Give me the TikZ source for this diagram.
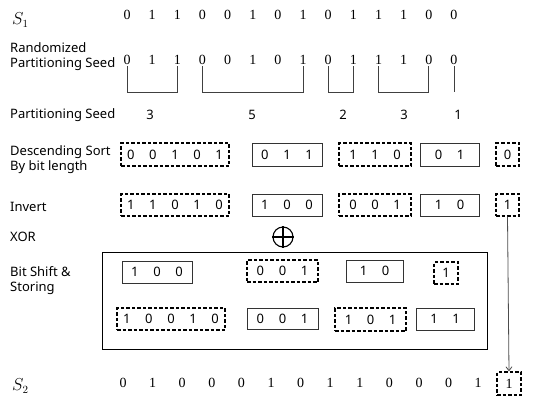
\documentclass[tikz,border=0pt]{standalone}
\usepackage{fontspec}
\setmainfont{Noto Sans}
\newfontfamily\serifdig{Liberation Serif}
\usetikzlibrary{arrows.meta}
\newcommand\bgp{\hspace{14.6pt}}
\begin{document}
\begin{tikzpicture}[x=1pt,y=-1pt,
  lab/.style={anchor=west, font=\fontsize{13}{15}\selectfont, align=left, inner sep=0pt},
  slab/.style={anchor=west, inner sep=0pt, font=\fontsize{16}{16}\selectfont},
  sdig/.style={font=\serifdig\fontsize{14}{14}\selectfont, inner sep=1.5pt},
  num/.style={font=\fontsize{13}{13}\selectfont, inner sep=1pt},
  bitbox/.style={draw, inner sep=0pt, minimum height=23pt, font=\fontsize{13}{13}\selectfont},
  solidbox/.style={bitbox, draw=black!80, line width=0.7pt},
  dashbox/.style={bitbox, line width=1.2pt, dash pattern=on 3.5pt off 2pt},
  br/.style={draw=black!75, line width=0.8pt}]
\useasboundingbox (0,0) rectangle (535,397);

% labels
\node[slab] (ls1) at (12,20) {$S_1$};
\node[lab] (lrand) at (10,57) {Randomized\\Partitioning Seed};
\node[lab] (lseed) at (10,115) {Partitioning Seed};
\node[lab] (ldesc) at (10,160) {Descending Sort\\By bit length};
\node[lab] (linv) at (10,207) {Invert};
\node[lab] (lxor) at (10,237) {XOR};
\node[lab] (lbit) at (10,281) {Bit Shift \&\\Storing};
\node[slab] (ls2) at (12,386) {$S_2$};

% S1 row
\foreach \d [count=\i from 0] in {0,1,1,0,0,1,0,1,0,1,1,1,0,0}
  \node[sdig] (a\i) at (127+25.15*\i,15) {\d};
% randomized seed row
\foreach \d [count=\i from 0] in {0,1,1,0,0,1,0,1,0,1,1,1,0,0}
  \node[sdig] (r\i) at (127+25.15*\i,60) {\d};

\coordinate (base) at (0,92);
\draw[br] (r0.south) -- (r0.south |- base) -- (r2.south |- base) -- (r2.south);
\draw[br] (r3.south) -- (r3.south |- base) -- (r7.south |- base) -- (r7.south);
\draw[br] (r8.south) -- (r8.south |- base) -- (r9.south |- base) -- (r9.south);
\draw[br] (r10.south) -- (r10.south |- base) -- (r12.south |- base) -- (r12.south);
\draw[br] (r13.south) -- (r13.south |- base);

% partitioning seed numbers
\node[num] (p1) at (150,115) {3};
\node[num] (p2) at (252,115) {5};
\node[num] (p3) at (343,115) {2};
\node[num] (p4) at (404,115) {3};
\node[num] (p5) at (458,115) {1};

% descending sort row
\node[dashbox, minimum width=108pt] (d1) at (175,154.5) {0\bgp0\bgp1\bgp0\bgp1};
\node[solidbox, minimum width=70pt] (d2) at (287,154.5) {0\bgp1\bgp1};
\node[dashbox, minimum width=72pt] (d3) at (375,154.5) {1\bgp1\bgp0};
\node[solidbox, minimum width=59pt] (d4) at (449.5,154.5) {0\bgp1};
\node[dashbox, minimum width=23pt] (d5) at (507.5,154.5) {0};

% invert row
\node[dashbox, minimum width=108pt, minimum height=22pt] (i1) at (175,205) {1\bgp1\bgp0\bgp1\bgp0};
\node[solidbox, minimum width=70pt, minimum height=22pt] (i2) at (287,205) {1\bgp0\bgp0};
\node[dashbox, minimum width=72pt, minimum height=22pt] (i3) at (375,205) {0\bgp0\bgp1};
\node[solidbox, minimum width=59pt, minimum height=22pt] (i4) at (449.5,205) {1\bgp0};
\node[dashbox, minimum width=23pt, minimum height=22pt] (i5) at (507.5,205) {1};

% XOR symbol
\node[draw, circle, minimum size=20pt, line width=1.1pt, inner sep=0pt] (xo) at (283,237) {};
\draw[line width=1.1pt] (xo.north) -- (xo.south) (xo.west) -- (xo.east);

% bit shift & storing frame
\node[draw, line width=1pt, minimum width=385pt, minimum height=97pt, inner sep=0pt] (frame) at (294.5,300.5) {};
\node[solidbox, minimum width=70pt, minimum height=22pt] (b1) at (157,272) {1\bgp0\bgp0};
\node[dashbox, minimum width=71pt, minimum height=22pt] (b2) at (282.5,271) {0\bgp0\bgp1};
\node[solidbox, minimum width=57pt, minimum height=22pt] (b3) at (374.5,271) {1\bgp0};
\node[dashbox, minimum width=24pt, minimum height=22pt] (b4) at (446,273) {1};
\node[dashbox, minimum width=108pt, minimum height=22pt] (c1) at (171,319) {1\bgp0\bgp0\bgp1\bgp0};
\node[solidbox, minimum width=71pt, minimum height=21pt] (c2) at (282.5,318.5) {0\bgp0\bgp1};
\node[dashbox, minimum width=71pt, minimum height=23pt] (c3) at (370.5,319.5) {1\bgp0\bgp1};
\node[solidbox, minimum width=58pt, minimum height=22pt] (c4) at (445,319) {1\bgp1};

% S2 row
\foreach \d [count=\i from 0] in {0,1,0,0,0,1,0,1,1,0,0,0,1}
  \node[sdig] (z\i) at (123+29.6*\i,383) {\d};
\node[dashbox, minimum width=24pt, minimum height=23pt, font=\serifdig\fontsize{14}{14}\selectfont] (z13) at (509,383.5) {1};

% arrow
\draw[draw=black!70, line width=0.8pt, -{Straight Barb[length=4pt,width=6pt]}] (i5.south) -- (z13.north);
\end{tikzpicture}
\end{document}
